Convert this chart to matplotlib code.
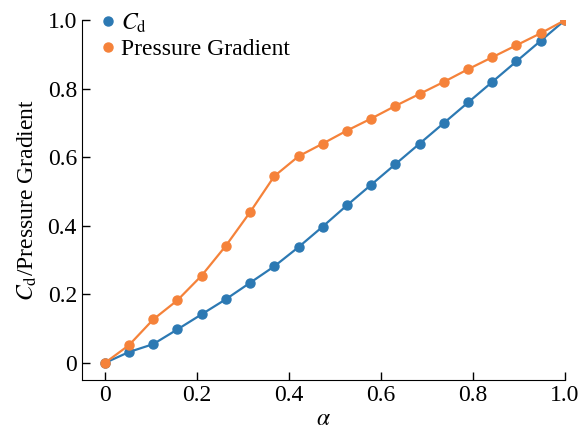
import numpy as np
import matplotlib
matplotlib.use("Agg")
import matplotlib.pyplot as plt

plt.rcParams['font.family'] = ['Liberation Serif', 'DejaVu Serif']
plt.rcParams['mathtext.fontset'] = 'stix'

# data
alpha = np.linspace(0, 1, 20)
cd = [0.0, 0.032, 0.055, 0.098, 0.142, 0.186, 0.234, 0.282, 0.338, 0.398,
      0.46, 0.52, 0.58, 0.64, 0.70, 0.76, 0.82, 0.88, 0.94, 1.0]
pressure = [0.0, 0.052, 0.127, 0.183, 0.255, 0.342, 0.44, 0.545, 0.603, 0.64,
            0.678, 0.713, 0.75, 0.785, 0.82, 0.857, 0.892, 0.927, 0.962, 1.0]
xticks = [0, 0.2, 0.4, 0.6, 0.8, 1.0]
xticklabels = ['0', '0.2', '0.4', '0.6', '0.8', '1.0']
yticks = [0, 0.2, 0.4, 0.6, 0.8, 1.0]
yticklabels = ['0', '0.2', '0.4', '0.6', '0.8', '1.0']

fig = plt.figure(figsize=(5.8, 4.3), dpi=100)
ax = fig.add_axes([0.141, 0.116, 0.833, 0.837])

ax.plot(alpha, cd, '-o', color='#2c79b3', lw=1.6, ms=6.5, label=r'$C_{\rm d}$')
ax.plot(alpha, pressure, '-o', color='#f5823a', lw=1.6, ms=6.5, label='Pressure Gradient')

ax.set_xlim(-0.05, 1.0)
ax.set_ylim(-0.05, 1.0)
ax.set_xticks(xticks)
ax.set_xticklabels(xticklabels)
ax.set_yticks(yticks)
ax.set_yticklabels(yticklabels)
ax.tick_params(direction='in', labelsize=17, length=6, width=1)
ax.spines['top'].set_visible(False)
ax.spines['right'].set_visible(False)

ax.set_xlabel(r'$\alpha$', fontsize=17, labelpad=2)
ax.set_ylabel(r'$C_{\rm d}$/Pressure Gradient', fontsize=17, labelpad=6)

ax.legend(loc='upper left', frameon=False, fontsize=17, handlelength=0,
          handletextpad=0.55, borderaxespad=0.0, labelspacing=0.15,
          bbox_to_anchor=(0.035, 1.05))

plt.savefig("out.png", dpi=100)
